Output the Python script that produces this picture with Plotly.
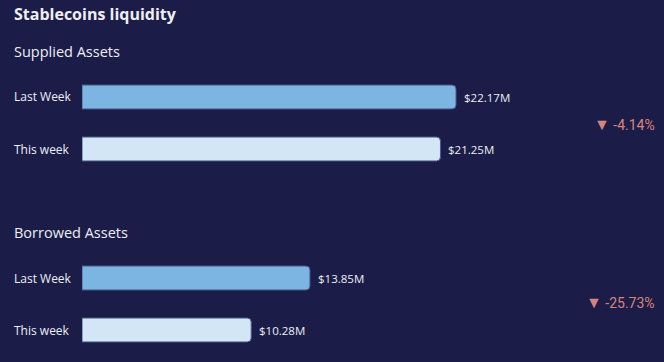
import plotly.graph_objects as go

periods = ["Last Week", "This week"]
supplied = [22.17, 21.25]
borrowed = [13.85, 10.28]
supplied_labels = ["$22.17M", "$21.25M"]
borrowed_labels = ["$13.85M", "$10.28M"]
supplied_change = "-4.14%"
borrowed_change = "-25.73%"
bar_colors = ["#7cb4e2", "#d3e6f5"]

BG = "#1b1d48"
TXT = "#eeeef4"
FONT = "Open Sans"
W, H = 664, 362

fig = go.Figure()
for vals, ax in [(supplied, ""), (borrowed, "2")]:
    fig.add_trace(go.Bar(
        x=vals, y=periods, orientation="h",
        marker=dict(color=bar_colors, cornerradius=4, line=dict(color="#4a5a8a", width=1)),
        width=0.46, xaxis="x" + ax, yaxis="y" + ax, hoverinfo="skip",
    ))

def py(p):
    return 1 - p / H

fig.update_layout(
    width=W, height=H, margin=dict(l=0, r=0, t=0, b=0),
    paper_bgcolor=BG, plot_bgcolor=BG, showlegend=False,
    font=dict(family=FONT, color=TXT),
    xaxis=dict(domain=[82 / W, 1], range=[0, 34.5], visible=False),
    yaxis=dict(domain=[py(175), py(71)], range=[1.5, -0.5], visible=False),
    xaxis2=dict(domain=[82 / W, 1], range=[0, 35.36], visible=False, anchor="y2"),
    yaxis2=dict(domain=[py(356), py(252)], range=[1.5, -0.5], visible=False, anchor="x2"),
)

# value labels next to bar ends
for vals, labels, ax in [(supplied, supplied_labels, ""), (borrowed, borrowed_labels, "2")]:
    for v, lab, p in zip(vals, labels, periods):
        fig.add_annotation(text=lab, x=v, y=p, xref="x" + ax, yref="y" + ax,
                           xanchor="left", yanchor="middle", xshift=6, showarrow=False,
                           font=dict(size=11.5, color=TXT, family=FONT))

ann = [
    dict(text="<b>Stablecoins liquidity</b>", x=12, y=14, size=16),
    dict(text="Supplied Assets", x=12, y=51, size=14.5),
    dict(text="Borrowed Assets", x=12, y=232, size=14.5),
]
for label_y, lab in zip([97, 149, 278, 330], periods * 2):
    ann.append(dict(text=lab, x=12, y=label_y, size=12))
for a in ann:
    fig.add_annotation(text=a["text"], x=a["x"] / W, y=py(a["y"]), xref="paper", yref="paper",
                       xanchor="left", yanchor="middle", showarrow=False,
                       font=dict(size=a["size"], color=TXT, family=FONT))
for ch, yy in [(supplied_change, 124), (borrowed_change, 302)]:
    fig.add_annotation(text="<span style='font-size:16px'>▼</span> " + ch, x=657 / W, y=py(yy),
                       xref="paper", yref="paper",
                       xanchor="right", yanchor="middle", showarrow=False,
                       font=dict(size=14, color="#d9837f", family="Roboto"))

fig.write_html("out.html", config={"displayModeBar": False},
               post_script="document.body.style.margin='0';document.body.style.background='%s';" % BG)
